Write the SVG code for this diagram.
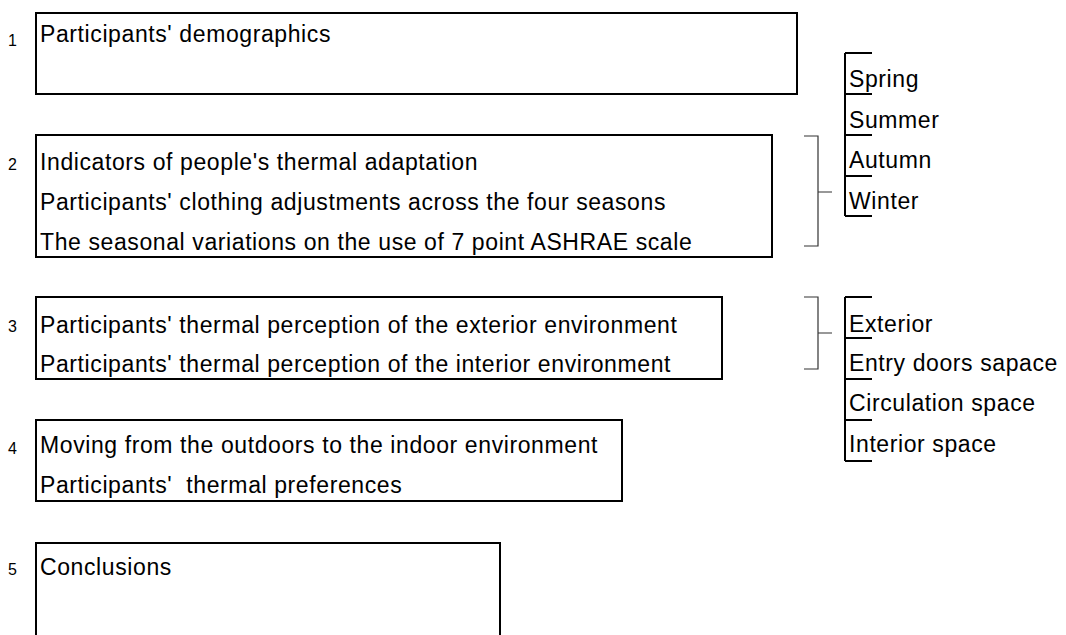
<svg xmlns="http://www.w3.org/2000/svg" width="1066" height="635" viewBox="0 0 1066 635">
  <style>
    .box { fill: none; stroke: #000; stroke-width: 2; }
    .txt { font-family: "Liberation Sans", Arial, sans-serif; font-size: 23px; letter-spacing: 0.6px; fill: #000; white-space: pre; }
    .num { font-family: "Liberation Sans", Arial, sans-serif; font-size: 16px; fill: #000; }
    .brace { fill: none; stroke: #333; stroke-width: 1.2; }
    .list { fill: none; stroke: #000; stroke-width: 2; }
  </style>
  <rect width="1066" height="635" fill="#fff"/>

  <!-- section 1 -->
  <g id="section1">
    <rect class="box" x="36" y="13" width="761" height="81"/>
    <text class="num" x="8" y="46">1</text>
    <text class="txt" x="40" y="42">Participants' demographics</text>
  </g>

  <!-- section 2 -->
  <g id="section2">
    <rect class="box" x="36" y="135" width="736" height="122"/>
    <text class="num" x="8" y="170">2</text>
    <text class="txt" x="40" y="170">Indicators of people's thermal adaptation</text>
    <text class="txt" x="40" y="210">Participants' clothing adjustments across the four seasons</text>
    <text class="txt" x="40" y="250">The seasonal variations on the use of 7 point ASHRAE scale</text>
  </g>

  <!-- section 3 -->
  <g id="section3">
    <rect class="box" x="36" y="297" width="686" height="82"/>
    <text class="num" x="8" y="332">3</text>
    <text class="txt" x="40" y="333">Participants' thermal perception of the exterior environment</text>
    <text class="txt" x="40" y="372">Participants' thermal perception of the interior environment</text>
  </g>

  <!-- section 4 -->
  <g id="section4">
    <rect class="box" x="36" y="420" width="586" height="81"/>
    <text class="num" x="8" y="454">4</text>
    <text class="txt" x="40" y="453">Moving from the outdoors to the indoor environment</text>
    <text class="txt" x="40" y="493" xml:space="preserve">Participants'  thermal preferences</text>
  </g>

  <!-- section 5 (runs past the lower edge) -->
  <g id="section5">
    <rect class="box" x="36" y="543" width="464" height="110"/>
    <text class="num" x="8" y="575">5</text>
    <text class="txt" x="40" y="575">Conclusions</text>
  </g>

  <!-- seasons list -->
  <g id="seasons">
    <path class="list" d="M845 53 V216 M845 53 H872 M845 94 H872 M845 135 H872 M845 176 H872 M845 216 H872"/>
    <text class="txt" x="849" y="87">Spring</text>
    <text class="txt" x="849" y="128">Summer</text>
    <text class="txt" x="849" y="168">Autumn</text>
    <text class="txt" x="849" y="209">Winter</text>
  </g>

  <!-- spaces list -->
  <g id="spaces">
    <path class="list" d="M845 297 V461 M845 297 H872 M845 338 H872 M845 379 H872 M845 420 H872 M845 461 H872"/>
    <text class="txt" x="849" y="332">Exterior</text>
    <text class="txt" x="849" y="371">Entry doors sapace</text>
    <text class="txt" x="849" y="411">Circulation space</text>
    <text class="txt" x="849" y="452">Interior space</text>
  </g>

  <!-- connectors: brackets joining sections to lists -->
  <g id="connectors">
    <path class="brace" d="M804 136 H818 V246 H804 M818 192 H832"/>
    <path class="brace" d="M804 297 H818 V369 H804 M818 333 H832"/>
  </g>
</svg>
